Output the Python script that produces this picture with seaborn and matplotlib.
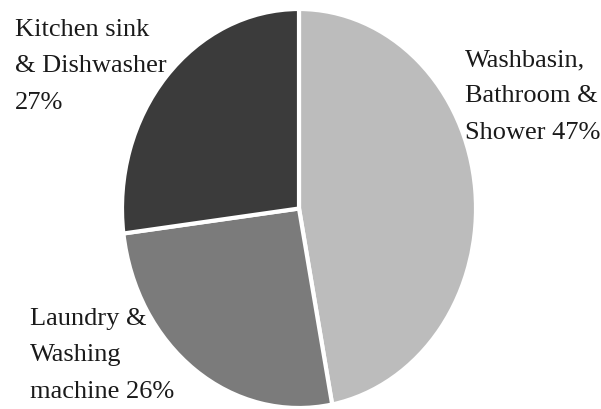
import matplotlib
matplotlib.use("Agg")
import matplotlib.pyplot as plt
import seaborn as sns

categories = ["Washbasin,\nBathroom &\nShower", "Laundry &\nWashing\nmachine", "Kitchen sink\n& Dishwasher\n"]
shares = [47, 26, 27]
colors = ["#bcbcbc", "#7b7b7b", "#3b3b3b"]

sns.set_theme(style="white")
plt.rcParams['font.family'] = ['Liberation Serif', 'DejaVu Serif']

W, H = 601, 409
fig = plt.figure(figsize=(W / 100, H / 100), dpi=100)
ax = fig.add_axes([122 / W, 1 / H, 354 / W, 399 / H])
ax.pie(shares, colors=colors, startangle=90, counterclock=False,
       wedgeprops=dict(edgecolor="white", linewidth=3), radius=1.0)
ax.set_aspect("auto")
ax.set_xlim(-1.0, 1.0)
ax.set_ylim(-1.0, 1.0)
ax.axis("off")

fs = 19
lbl = [f"{c} {s}%" if not c.endswith("\n") else f"{c}{s}%" for c, s in zip(categories, shares)]
# positions: (left px, top px)
pos = [(465, 49), (30, 308), (15, 19)]
for text, (x, y) in zip(lbl, pos):
    fig.text(x / W, 1 - y / H, text, ha="left", va="top", fontsize=fs,
             linespacing=1.85, color="#1a1a1a")

fig.savefig("out.png", dpi=100, facecolor="white")
